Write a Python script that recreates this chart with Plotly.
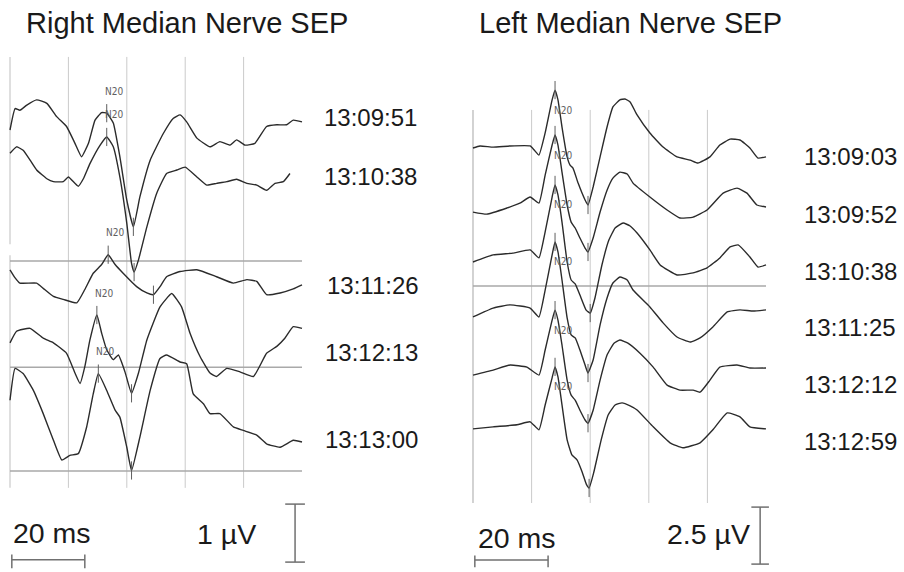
import numpy as np
import plotly.graph_objects as go

W, H = 904, 572

# ---------------- Right median nerve SEP (left panel) ----------------
# time in ms, amplitude in µV relative to the start of each sweep
L_labels = ["13:09:51", "13:10:38", "13:11:26", "13:12:13", "13:13:00"]
L_offsets = [0.0, -0.40, -2.41, -3.67, -4.66]

L1_t = [0, 1.4, 2.7, 4.6, 7.3, 10.1, 12.8, 15.5, 17.8, 19.6, 21.5, 23.3, 25.1, 26.5, 28.3, 30.1, 32.0, 33.8,
        35.6, 38.4, 42.0, 44.7, 46.6, 48.4, 51.2, 54.8, 57.5, 60.3, 62.1, 64.4, 67.1, 70.3, 73.1, 75.8, 77.6, 80.0]
L1_v = [0, 0.37, 0.34, 0.43, 0.52, 0.46, 0.23, 0.06, -0.23, -0.46, -0.23, 0.17, 0.30, 0.29, 0.12, -0.46, -1.21, -1.67,
        -1.15, -0.52, -0.06, 0.20, 0.26, 0.14, -0.14, -0.29, -0.20, -0.26, -0.17, -0.26, -0.23, 0.06, 0.09, 0.09, 0.17, 0.14]

L2_t = [0, 1.8, 3.6, 5.5, 7.3, 10.1, 11.9, 14.6, 16.0, 18.7, 20.1, 21.9, 24.7, 26.5, 28.3, 30.1, 32.0, 33.3,
        34.0, 35.2, 37.5, 40.2, 42.9, 45.7, 48.0, 51.2, 53.9, 56.6, 59.4, 62.1, 64.9, 67.6, 70.3, 72.6, 74.9, 76.7]
L2_v = [0, 0.11, 0.05, -0.12, -0.29, -0.44, -0.49, -0.49, -0.41, -0.57, -0.44, -0.18, 0.14, 0.28, 0.11, -0.41, -1.21, -1.90,
        -2.05, -1.84, -1.27, -0.69, -0.35, -0.29, -0.24, -0.41, -0.55, -0.52, -0.49, -0.45, -0.52, -0.55, -0.64, -0.52, -0.49, -0.35]

L3_t = [0, 1.4, 2.7, 7.3, 9.1, 11.9, 14.6, 18.3, 20.5, 22.8, 25.1, 26.9, 28.8, 31.0, 34.7, 37.5, 39.3, 41.1,
        42.9, 46.6, 51.2, 56.6, 61.2, 64.9, 67.6, 70.3, 74.0, 77.6, 80.0]
L3_v = [0, -0.14, -0.23, -0.23, -0.32, -0.46, -0.51, -0.57, -0.34, -0.06, 0.09, 0.26, 0.09, -0.06, -0.29, -0.40, -0.43, -0.29,
        -0.12, -0.03, 0.00, -0.12, -0.23, -0.17, -0.20, -0.43, -0.40, -0.33, -0.26]

L4_t = [0, 1.8, 5.5, 9.1, 11.9, 15.5, 17.8, 19.2, 20.5, 21.9, 23.8, 25.1, 26.5, 28.3, 29.7, 31.5, 33.3, 35.2,
        37.5, 41.1, 44.3, 47.0, 49.3, 52.1, 54.8, 56.6, 59.4, 63.0, 66.7, 70.3, 73.1, 75.3, 77.6, 80.0]
L4_v = [0, 0.20, 0.25, 0.08, 0, -0.18, -0.52, -0.70, -0.41, 0.05, 0.48, 0.17, -0.12, -0.29, -0.21, -0.50, -0.87, -0.52,
        0.05, 0.62, 0.85, 0.62, 0.17, -0.24, -0.52, -0.58, -0.44, -0.50, -0.58, -0.18, -0.06, 0.08, 0.28, 0.25]

L5_t = [0, 1.4, 3.6, 6.4, 9.1, 11.9, 14.2, 16.4, 18.7, 21.0, 22.8, 24.2, 26.5, 28.8, 30.1, 32.0, 33.3, 35.6,
        38.4, 41.1, 42.9, 46.6, 48.4, 50.2, 53.0, 54.8, 57.5, 61.2, 63.9, 67.6, 70.3, 74.0, 77.6, 80.0]
L5_v = [0, 0.55, 0.46, 0.17, -0.23, -0.69, -1.03, -0.95, -0.92, -0.46, 0.11, 0.46, 0.17, -0.17, -0.29, -0.81, -1.21, -0.63,
        0.17, 0.72, 0.78, 0.66, 0.63, 0.11, -0.06, -0.23, -0.23, -0.46, -0.52, -0.60, -0.75, -0.81, -0.69, -0.72]

L_n20_ms = [26.5, 26.5, 26.9, 23.8, 24.2]
L_trough_ms = [33.8, 34.0, 39.3, 33.3, 33.3]

# ---------------- Left median nerve SEP (right panel) ----------------
R_labels = ["13:09:03", "13:09:52", "13:10:38", "13:11:25", "13:12:12", "13:12:59"]
R_offsets = [0.0, -2.81, -5.00, -7.41, -9.96, -12.32]

R1_t = [0, 1.9, 5.5, 10.1, 15.6, 16.7, 18.0, 19.7, 21.6, 22.4, 23.2, 24.3, 25.7, 26.5, 27.3, 28.7, 30.6, 31.4, 32.8,
        34.7, 36.6, 38.2, 40.1, 41.5, 42.9, 44.8, 48.3, 51.9, 55.7, 59.3, 61.4, 64.7, 67.4, 70.2, 72.9, 75.6, 77.8, 80.0]
R1_v = [0, 0.09, 0.04, 0.09, 0.09, -0.09, -0.31, 0.66, 2.11, 2.54, 2.11, 0.92, -0.39, -0.75, -0.88, -1.54, -2.28, -2.50, -1.71,
        -0.39, 0.92, 1.80, 2.11, 2.15, 2.02, 1.45, 0.66, 0.04, -0.39, -0.53, -0.66, -0.39, 0.13, 0.39, 0.35, 0, -0.44, -0.39]

R2_t = [0, 3.8, 9.3, 12.8, 15.6, 18.0, 19.7, 21.6, 22.4, 23.2, 24.3, 25.7, 26.8, 27.9, 29.2, 30.6, 31.4, 32.8,
        34.7, 36.6, 38.2, 40.1, 42.1, 43.7, 48.3, 53.0, 56.5, 60.1, 63.9, 68.3, 72.1, 74.8, 77.5, 80.0]
R2_v = [0, -0.09, 0.18, 0.39, 0.66, 0.39, 1.62, 2.94, 3.38, 2.94, 1.75, 0.31, -0.44, -0.70, -1.14, -1.58, -1.75, -1.14,
        0, 0.96, 1.49, 1.75, 1.67, 1.27, 0.66, 0.09, -0.26, -0.22, 0.09, 0.83, 1.05, 0.83, 0.31, 0.22]

R3_t = [0, 5.5, 10.9, 15.6, 18.0, 19.7, 21.6, 22.4, 23.2, 24.3, 25.7, 26.8, 27.9, 29.2, 30.9, 32.0, 33.3, 35.2,
        37.1, 38.8, 41.0, 42.9, 44.8, 48.3, 51.1, 55.7, 60.1, 63.9, 67.4, 70.2, 72.4, 75.6, 77.8, 80.0]
R3_v = [0, 0.31, 0.39, 0.53, 0.18, 1.32, 2.85, 3.38, 2.94, 1.75, 0, -0.79, -0.96, -1.45, -2.11, -2.24, -1.58, -0.13,
        0.96, 1.49, 1.71, 1.58, 1.27, 0.53, -0.13, -0.57, -0.48, -0.26, 0.18, 0.66, 0.75, 0.22, -0.22, -0.13]

R4_t = [0, 5.5, 10.1, 15.6, 18.0, 19.7, 21.6, 22.4, 23.2, 24.3, 25.7, 26.8, 27.9, 29.2, 30.6, 31.4, 32.8, 34.7,
        36.6, 38.2, 40.1, 42.1, 43.7, 48.3, 51.9, 55.7, 59.3, 62.0, 65.5, 69.4, 72.9, 76.5, 80.0]
R4_v = [0, 0.39, 0.53, 0.39, 0, 1.18, 2.72, 3.29, 2.85, 1.62, -0.04, -0.79, -0.92, -1.45, -2.11, -2.46, -1.89, -0.35,
        0.83, 1.49, 1.75, 1.62, 1.18, 0.44, -0.26, -0.88, -1.10, -0.92, -0.44, 0.22, 0.31, 0.26, 0.31]

R5_t = [0, 5.5, 10.1, 14.7, 18.0, 19.7, 21.6, 22.4, 23.2, 24.3, 25.7, 26.8, 27.9, 29.2, 30.6, 31.4, 32.8, 34.7,
        36.6, 38.5, 40.1, 42.3, 45.6, 49.2, 53.0, 56.5, 60.1, 62.0, 64.7, 67.4, 72.1, 75.6, 80.0]
R5_v = [0, 0.22, 0.44, 0.35, 0, 1.10, 2.41, 2.85, 2.41, 1.32, -0.22, -0.88, -1.10, -1.54, -1.97, -2.11, -1.54, -0.22,
        0.88, 1.40, 1.54, 1.40, 0.96, 0.35, -0.44, -0.66, -0.66, -0.75, -0.22, 0.35, 0.44, 0.31, 0.31]

R6_t = [0, 5.5, 12.0, 15.6, 18.0, 19.7, 21.6, 22.4, 23.2, 24.3, 25.7, 27.0, 28.4, 29.8, 30.9, 31.7, 33.0, 35.0,
        36.9, 38.8, 40.7, 42.9, 44.8, 49.2, 53.8, 57.3, 62.0, 65.5, 69.4, 72.9, 75.6, 80.0]
R6_v = [0, 0.09, 0.18, 0.31, -0.04, 1.05, 2.24, 2.72, 2.28, 1.05, -0.48, -1.14, -1.36, -1.89, -2.41, -2.59, -1.89, -0.48,
        0.61, 1.05, 1.14, 1.01, 0.83, 0.09, -0.61, -0.83, -0.61, -0.04, 0.70, 0.53, 0.09, 0]

R_n20_ms = [22.4, 22.4, 22.4, 22.4, 22.4, 22.4]
R_trough_ms = [31.4, 31.4, 32.0, 31.4, 31.4, 31.7]

GRID_MS = [0, 16, 32, 48, 64]
SWEEP_MS = 80
L_SCALE = (20, 1.0)    # 20 ms, 1 µV
R_SCALE = (20, 2.5)    # 20 ms, 2.5 µV

L_traces = [(L1_t, L1_v), (L2_t, L2_v), (L3_t, L3_v), (L4_t, L4_v), (L5_t, L5_v)]
R_traces = [(R1_t, R1_v), (R2_t, R2_v), (R3_t, R3_v), (R4_t, R4_v), (R5_t, R5_v), (R6_t, R6_v)]

FONT = "Liberation Sans, Arial, sans-serif"
NARROW = "Liberation Sans Narrow, DejaVu Sans Condensed, Liberation Sans, sans-serif"
TRACE_COLOR = "#2b2b2b"
MARK_COLOR = "#5e5e5e"

fig = go.Figure()
ann = []


def add_panel(traces, offsets, n20, trough, xa, ya, lab_shift):
    mx, my, tx, ty = [], [], [], []
    for (t, v), off, lat, tr in zip(traces, offsets, n20, trough):
        y = [a + off for a in v]
        fig.add_trace(go.Scatter(x=t, y=y, mode="lines", xaxis=xa, yaxis=ya,
                                 line=dict(color=TRACE_COLOR, width=1.4, shape="spline", smoothing=0.4),
                                 hoverinfo="skip", showlegend=False))
        mx.append(lat)
        my.append(float(np.interp(lat, t, v)) + off)
        tx.append(tr)
        ty.append(float(np.interp(tr, t, v)) + off)
        ann.append(dict(x=lat, y=my[-1], xref=xa, yref=ya, text="N20", showarrow=False,
                        xshift=lab_shift[0], yshift=lab_shift[1],
                        font=dict(family=NARROW, size=10, color=MARK_COLOR)))
    fig.add_trace(go.Scatter(x=mx + tx, y=my + ty, mode="markers", xaxis=xa, yaxis=ya,
                             marker=dict(symbol="line-ns", size=13, line=dict(color=MARK_COLOR, width=1)),
                             hoverinfo="skip", showlegend=False))


add_panel(L_traces, L_offsets, L_n20_ms, L_trough_ms, "x", "y", (7, 22))
add_panel(R_traces, R_offsets, R_n20_ms, R_trough_ms, "x2", "y2", (8, -20))

shapes = []
GRID = "#cacaca"
HLINE = "#a9a9a9"
BAR = "#707070"

# left panel grid (axis units: ms / µV)
L_top, L_bot = 1.26, -6.17
for g in GRID_MS:
    if g == 0:
        shapes.append(dict(type="line", xref="x", yref="y", x0=0, x1=0, y0=L_top, y1=-1.97,
                           line=dict(color=GRID, width=1.2), layer="below"))
        shapes.append(dict(type="line", xref="x", yref="y", x0=0, x1=0, y0=-2.16, y1=L_bot,
                           line=dict(color=GRID, width=1.2), layer="below"))
    else:
        shapes.append(dict(type="line", xref="x", yref="y", x0=g, x1=g, y0=L_top, y1=L_bot,
                           line=dict(color=GRID, width=1), layer="below"))
for hy in [-2.26, -4.09, -5.88]:
    shapes.append(dict(type="line", xref="x", yref="y", x0=0, x1=SWEEP_MS, y0=hy, y1=hy,
                       line=dict(color=HLINE, width=1.5), layer="below"))

# right panel grid
R_top, R_bot = 1.67, -15.57
for g in GRID_MS:
    shapes.append(dict(type="line", xref="x2", yref="y2", x0=g, x1=g, y0=R_top, y1=R_bot,
                       line=dict(color=GRID if g else "#b5b5b5", width=1.2 if g == 0 else 1), layer="below"))
shapes.append(dict(type="line", xref="x2", yref="y2", x0=0, x1=SWEEP_MS, y0=-6.05, y1=-6.05,
                   line=dict(color=HLINE, width=1.5), layer="below"))


def scale_bars(xa, ya, t0, ybar, ms, uv_x, uv_top, uv, tick_h, tick_w):
    shapes.append(dict(type="line", xref=xa, yref=ya, x0=t0, x1=t0 + ms, y0=ybar, y1=ybar,
                       line=dict(color=BAR, width=1.5)))
    for xx in (t0, t0 + ms):
        shapes.append(dict(type="line", xref=xa, yref=ya, x0=xx, x1=xx, y0=ybar + tick_h, y1=ybar - tick_h * 1.6,
                           line=dict(color=BAR, width=1.5)))
    shapes.append(dict(type="line", xref=xa, yref=ya, x0=uv_x, x1=uv_x, y0=uv_top, y1=uv_top - uv,
                       line=dict(color=BAR, width=1.5)))
    for yy in (uv_top, uv_top - uv):
        shapes.append(dict(type="line", xref=xa, yref=ya, x0=uv_x - tick_w, x1=uv_x + tick_w, y0=yy, y1=yy,
                           line=dict(color=BAR, width=1.5)))


scale_bars("x", "y", 0.5, -7.41, L_SCALE[0], 78.1, -6.45, L_SCALE[1], 0.09, 2.7)
scale_bars("x2", "y2", 0.5, -18.07, R_SCALE[0], 78.4, -15.75, R_SCALE[1], 0.2, 2.4)


def txt(text, px, py, size, anchor="left", color="#1a1a1a"):
    ann.append(dict(text=text, x=px / W, y=1 - py / H, xref="paper", yref="paper", showarrow=False,
                    xanchor=anchor, yanchor="middle", font=dict(family=FONT, size=size, color=color)))


txt("Right Median Nerve SEP", 186.5, 23, 29, "center")
txt("Left Median Nerve SEP", 630, 23, 29, "center")

for lab, (px, py) in zip(L_labels, [(322, 117), (322, 176), (325, 285), (323, 352), (323, 439)]):
    txt(lab, px, py, 24)
for lab, py in zip(R_labels, [156.5, 214, 271, 327.5, 384, 441]):
    txt(lab, 802, py, 24)

txt("20 ms", 11, 533, 28.5)
txt("1 µV", 195, 534, 28.5)
txt("20 ms", 476, 538, 28.5)
txt("2.5 µV", 665, 534, 28.5)

fig.update_layout(
    width=W, height=H, margin=dict(l=0, r=0, t=0, b=0),
    paper_bgcolor="white", plot_bgcolor="white",
    xaxis=dict(domain=[0, 0.5], range=[-2.7397, 121.096], visible=False),
    yaxis=dict(domain=[0, 1], range=[-7.6207, 2.2414], visible=False),
    xaxis2=dict(domain=[0.5, 1], range=[-5.7338, 117.679], visible=False, anchor="y2"),
    yaxis2=dict(domain=[0, 1], range=[-18.5965, 6.4912], visible=False, anchor="x2"),
    shapes=shapes, annotations=ann, showlegend=False,
)

fig.write_html("out.html", config={"displayModeBar": False},
               post_script="document.body.style.margin='0';document.body.style.overflow='hidden';")
